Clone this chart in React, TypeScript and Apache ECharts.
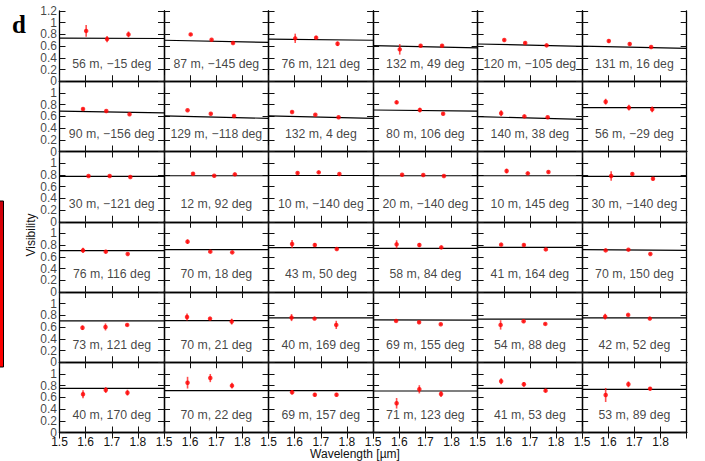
import React, { useEffect, useRef } from "react";
import * as echarts from "echarts";

// Panel labels (baseline length, position angle), row by row
const panelLabels: string[] = [
  "56 m, −15 deg", "87 m, −145 deg", "76 m, 121 deg", "132 m, 49 deg", "120 m, −105 deg", "131 m, 16 deg",
  "90 m, −156 deg", "129 m, −118 deg", "132 m, 4 deg", "80 m, 106 deg", "140 m, 38 deg", "56 m, −29 deg",
  "30 m, −121 deg", "12 m, 92 deg", "10 m, −140 deg", "20 m, −140 deg", "10 m, 145 deg", "30 m, −140 deg",
  "76 m, 116 deg", "70 m, 18 deg", "43 m, 50 deg", "58 m, 84 deg", "41 m, 164 deg", "70 m, 150 deg",
  "73 m, 121 deg", "70 m, 21 deg", "40 m, 169 deg", "69 m, 155 deg", "54 m, 88 deg", "42 m, 52 deg",
  "40 m, 170 deg", "70 m, 22 deg", "69 m, 157 deg", "71 m, 123 deg", "41 m, 53 deg", "53 m, 89 deg",
];

// Wavelengths (µm) of the three spectral channels, per row of panels
const rowWavelengths: number[][] = [
  [1.602, 1.682, 1.764],
  [1.59, 1.679, 1.768],
  [1.611, 1.692, 1.771],
  [1.59, 1.677, 1.761],
  [1.588, 1.676, 1.759],
  [1.59, 1.677, 1.76],
];

// Measured visibilities
const visibility: number[][] = [
  [0.86, 0.72, 0.8], [0.8, 0.71, 0.653], [0.733, 0.745, 0.64], [0.545, 0.607, 0.607], [0.704, 0.653, 0.613], [0.687, 0.636, 0.585],
  [0.726, 0.692, 0.636], [0.704, 0.646, 0.607], [0.675, 0.629, 0.585], [0.84, 0.709, 0.646], [0.653, 0.6, 0.585], [0.851, 0.749, 0.72],
  [0.781, 0.781, 0.764], [0.82, 0.786, 0.81], [0.832, 0.844, 0.815], [0.804, 0.798, 0.781], [0.867, 0.827, 0.85], [0.781, 0.815, 0.735],
  [0.711, 0.689, 0.65], [0.86, 0.689, 0.677], [0.82, 0.803, 0.735], [0.814, 0.803, 0.762], [0.809, 0.803, 0.728], [0.711, 0.723, 0.65],
  [0.59, 0.603, 0.638], [0.774, 0.746, 0.694], [0.763, 0.746, 0.638], [0.706, 0.683, 0.65], [0.638, 0.7, 0.655], [0.78, 0.809, 0.746],
  [0.653, 0.726, 0.68], [0.851, 0.93, 0.8], [0.687, 0.646, 0.646], [0.499, 0.738, 0.658], [0.875, 0.823, 0.715], [0.641, 0.823, 0.749],
];

// 1-sigma errors of the visibilities
const visibilityErr: number[][] = [
  [0.1, 0.055, 0.05], [0.02, 0.015, 0.015], [0.08, 0.03, 0.04], [0.09, 0.02, 0.02], [0.02, 0.02, 0.015], [0.025, 0.025, 0.015],
  [0.02, 0.015, 0.015], [0.015, 0.015, 0.015], [0.015, 0.015, 0.015], [0.03, 0.04, 0.02], [0.05, 0.02, 0.015], [0.05, 0.05, 0.05],
  [0.015, 0.015, 0.015], [0.025, 0.015, 0.02], [0.02, 0.02, 0.015], [0.015, 0.015, 0.015], [0.04, 0.02, 0.02], [0.08, 0.025, 0.025],
  [0.045, 0.03, 0.015], [0.04, 0.015, 0.015], [0.07, 0.03, 0.02], [0.07, 0.035, 0.02], [0.02, 0.02, 0.02], [0.015, 0.015, 0.015],
  [0.04, 0.06, 0.02], [0.06, 0.02, 0.05], [0.06, 0.015, 0.07], [0.015, 0.02, 0.015], [0.08, 0.02, 0.015], [0.05, 0.015, 0.015],
  [0.07, 0.05, 0.05], [0.1, 0.07, 0.05], [0.04, 0.03, 0.03], [0.09, 0.07, 0.05], [0.05, 0.04, 0.03], [0.12, 0.05, 0.03],
];

// Model visibility at the panel's left (1.5 µm) and right (1.9 µm) edges
const modelStart: number[] = [
  0.735, 0.7, 0.72, 0.607, 0.636, 0.6,
  0.69, 0.607, 0.607, 0.709, 0.595, 0.749,
  0.776, 0.786, 0.79, 0.786, 0.786, 0.776,
  0.706, 0.723, 0.757, 0.746, 0.762, 0.723,
  0.706, 0.712, 0.757, 0.723, 0.735, 0.757,
  0.755, 0.715, 0.715, 0.709, 0.755, 0.738,
];
const modelEnd: number[] = [
  0.73, 0.665, 0.7, 0.57, 0.597, 0.56,
  0.66, 0.567, 0.567, 0.69, 0.55, 0.749,
  0.776, 0.786, 0.79, 0.786, 0.786, 0.776,
  0.706, 0.723, 0.757, 0.746, 0.762, 0.711,
  0.706, 0.712, 0.757, 0.718, 0.735, 0.757,
  0.755, 0.715, 0.715, 0.709, 0.755, 0.738,
];

const xRange = [1.5, 1.9];
const yRange = [0, 1.2];
const yTickLabels = [0, 0.2, 0.4, 0.6, 0.8, 1, 1.2];

export default function App() {
  const ref = useRef<HTMLDivElement>(null);

  useEffect(() => {
    if (!ref.current) return;
    const chart = echarts.init(ref.current, undefined, { renderer: "svg" });
    const NR = 6, NC = 6;
    const L = 59.5, T = 11, W = 104.53, H = 70.25;
    const font = "'Liberation Sans', Arial, Helvetica, sans-serif";
    const txt = "#111";
    const grids: any[] = [], xAxes: any[] = [], yAxes: any[] = [], series: any[] = [];
    const fmt = (v: number) => String(Number(v.toFixed(1)));

    for (let r = 0; r < NR; r++) {
      for (let c = 0; c < NC; c++) {
        const i = r * NC + c;
        grids.push({ left: L + c * W, top: T + r * H, width: W, height: H });
        const axLine = { show: true, lineStyle: { color: "#000", width: 1.3 } };
        const tick = { show: true, inside: true, length: 6, lineStyle: { color: "#111", width: 1 } };
        const xBase = { type: "value", gridIndex: i, min: xRange[0], max: xRange[1], interval: 0.1, splitLine: { show: false }, axisLine: axLine, axisTick: tick };
        xAxes.push({
          ...xBase, position: "bottom",
          axisLabel: {
            show: r === NR - 1, margin: 3, fontSize: 12, color: txt, fontFamily: font,
            showMinLabel: true, showMaxLabel: false, hideOverlap: false,
            formatter: (v: number) => (v > 1.85 ? "" : fmt(v)),
          },
        });
        xAxes.push({ ...xBase, position: "top", axisLabel: { show: false } });
        const yBase = { type: "value", gridIndex: i, min: yRange[0], max: yRange[1], interval: 0.2, splitLine: { show: false }, axisLine: axLine, axisTick: tick, axisLabel: { show: false } };
        yAxes.push({ ...yBase, position: "left" });
        yAxes.push({ ...yBase, position: "right" });

        const xa = 2 * i, ya = 2 * i;
        const wl = rowWavelengths[r];
        series.push({
          type: "line", xAxisIndex: xa, yAxisIndex: ya, symbol: "none", z: 3,
          lineStyle: { color: "#000", width: 1.2 },
          data: [[xRange[0], modelStart[i]], [xRange[1], modelEnd[i]]],
        });
        series.push({
          type: "custom", xAxisIndex: xa, yAxisIndex: ya, z: 4,
          data: wl.map((w, k) => [w, visibility[i][k], visibilityErr[i][k]]),
          renderItem: (params: any, api: any) => {
            const x = api.value(0), y = api.value(1), e = api.value(2);
            const p1 = api.coord([x, y - e]);
            const p2 = api.coord([x, y + e]);
            return {
              type: "line",
              shape: { x1: p1[0], y1: p1[1], x2: p2[0], y2: p2[1] },
              style: { stroke: "rgba(255,20,20,0.75)", lineWidth: 1.6 },
            };
          },
        });
        series.push({
          type: "scatter", xAxisIndex: xa, yAxisIndex: ya, z: 5,
          symbol: "circle", symbolSize: 4.5,
          itemStyle: { color: "#ff0000" },
          data: wl.map((w, k) => [w, visibility[i][k]]),
        });
        series.push({
          type: "scatter", xAxisIndex: xa, yAxisIndex: ya, z: 6, silent: true,
          symbolSize: 1, itemStyle: { color: "transparent" },
          label: {
            show: true, position: "inside", fontSize: 12.3, color: txt, fontFamily: font,
            formatter: () => panelLabels[i],
          },
          data: [[1.7, 0.3]],
        });
        if (c === 0) {
          // y tick labels, placed on the y scale of the panel
          series.push({
            type: "scatter", xAxisIndex: xa, yAxisIndex: ya, z: 6, silent: true, clip: false,
            symbolSize: 1, itemStyle: { color: "transparent" },
            labelLayout: { hideOverlap: false },
            label: {
              show: true, position: "left", distance: 2, fontSize: 12, lineHeight: 11, color: txt, fontFamily: font,
              formatter: (p: any) => fmt(p.value[1]),
            },
            data: yTickLabels.filter((v) => r === 0 || v < 1.1).map((v) => [xRange[0], v]),
          });
        }
      }
    }

    chart.setOption({
      animation: false,
      backgroundColor: "#fff",
      grid: grids,
      xAxis: xAxes,
      yAxis: yAxes,
      series,
      graphic: [
        {
          type: "text", left: 12, top: 12,
          style: { text: "d", font: "bold 25px 'Liberation Serif', 'Times New Roman', serif", fill: "#000" },
        },
        {
          type: "text", x: 31, y: 235, rotation: Math.PI / 2,
          style: { text: "Visibility", fontSize: 12, fontFamily: font, fill: txt, align: "center", verticalAlign: "middle" },
        },
        {
          type: "text", x: 355, y: 454,
          style: { text: "Wavelength [µm]", fontSize: 12, fontFamily: font, fill: txt, align: "center", verticalAlign: "middle" },
        },
        {
          type: "rect", shape: { x: -2, y: 201, width: 5.5, height: 166 },
          style: {
            fill: new echarts.graphic.LinearGradient(0, 0, 0, 1, [
              { offset: 0, color: "#c8000c" },
              { offset: 0.35, color: "#ee0000" },
              { offset: 1, color: "#ff0000" },
            ]),
            stroke: "#000", lineWidth: 1,
          },
        },
      ],
    });
    return () => chart.dispose();
  }, []);

  return <div ref={ref} style={{ position: "fixed", left: 0, top: 0, width: 705, height: 461 }} />;
}
